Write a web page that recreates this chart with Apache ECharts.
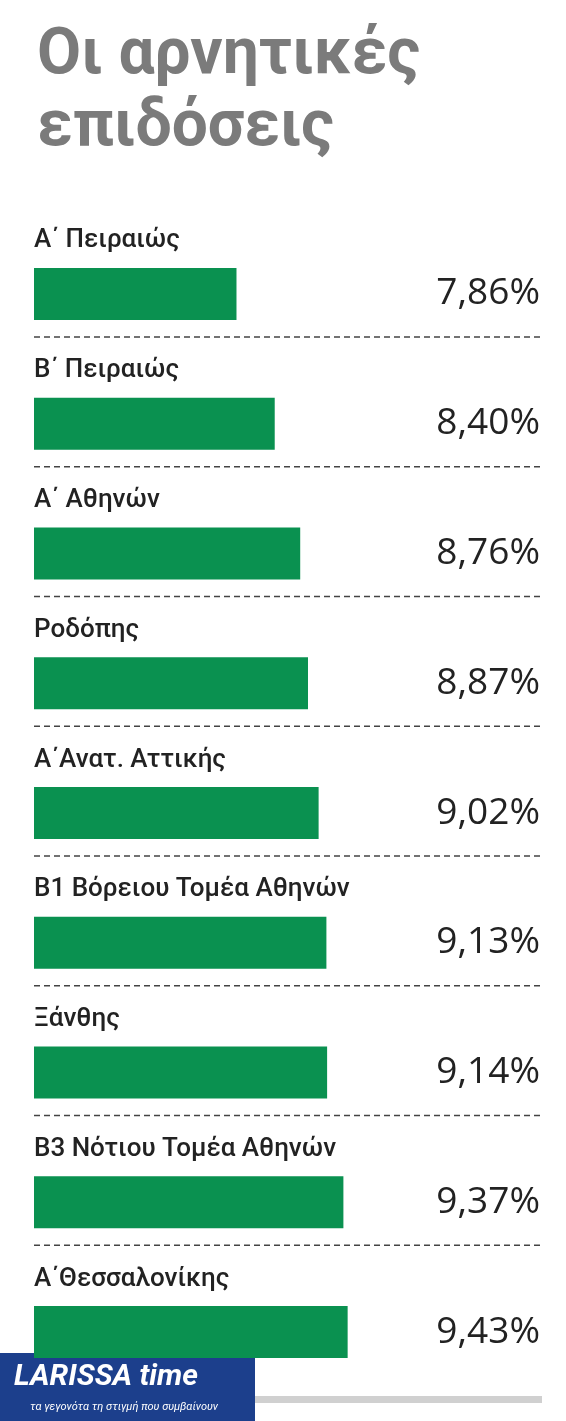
<!DOCTYPE html>
<html><head><meta charset="utf-8">
<script src="https://cdn.jsdelivr.net/npm/echarts@6/dist/echarts.min.js"></script>
<style>html,body{margin:0;padding:0;background:#fff}#c{width:566px;height:1421px}</style>
</head><body><div id="c"></div>
<script>
const categories = ["Α΄ Πειραιώς","Β΄ Πειραιώς","Α΄ Αθηνών","Ροδόπης","Α΄Ανατ. Αττικής","Β1 Βόρειου Τομέα Αθηνών","Ξάνθης","Β3 Νότιου Τομέα Αθηνών","Α΄Θεσσαλονίκης"];
const values = [7.86,8.40,8.76,8.87,9.02,9.13,9.14,9.37,9.43];
const valueLabels = values.map(v => v.toFixed(2).replace('.', ',') + '%');

const chart = echarts.init(document.getElementById('c'));
chart.setOption({
  animation:false,
  title:{text:'Οι αρνητικές\nεπιδόσεις',left:32,top:16,textStyle:{fontFamily:'Roboto',fontWeight:'bold',fontSize:64,lineHeight:72,color:'#7b7b7b'}},
  grid:{left:34,right:178,top:229,height:1168},
  xAxis:{type:'value',min:5,max:10,show:false},
  yAxis:[
    {type:'category',data:categories,inverse:true,show:false},
    {type:'category',data:valueLabels,inverse:true,position:'right',axisLine:{show:false},axisTick:{show:false},
     axisLabel:{align:'right',margin:152,fontFamily:'Open Sans',fontSize:37,color:'#222'}}
  ],
  series:[{type:'bar',data:values,barWidth:52,itemStyle:{color:'#0a9150'},
    label:{show:true,formatter:'{b}',position:[0,-14],align:'left',verticalAlign:'bottom',fontFamily:'Roboto',fontWeight:500,fontSize:26,color:'#222'}}]
});
const g=[];
for(let i=0;i<categories.length-1;i++){
  const y=chart.convertToPixel({yAxisIndex:0},categories[i])+43;
  g.push({type:'line',shape:{x1:34,y1:y,x2:542,y2:y},style:{stroke:'#444',lineWidth:1.5,lineDash:[6,4]}});
}
g.push({type:'rect',shape:{x:255,y:1396,width:287,height:7},style:{fill:'#d0d0d0'}});
g.push({type:'rect',shape:{x:0,y:1353,width:255,height:68},style:{fill:'#1c3f8c'}});
g.push({type:'text',x:14,y:1362,style:{text:'LARISSA time',fontFamily:'Roboto',fontWeight:'bold',fontStyle:'italic',fontSize:30,fill:'#fff'}});
g.push({type:'text',x:30,y:1402,style:{text:'τα γεγονότα τη στιγμή που συμβαίνουν',fontFamily:'Roboto',fontStyle:'italic',fontSize:11,fill:'#fff'}});
chart.setOption({graphic:g});
</script></body></html>
